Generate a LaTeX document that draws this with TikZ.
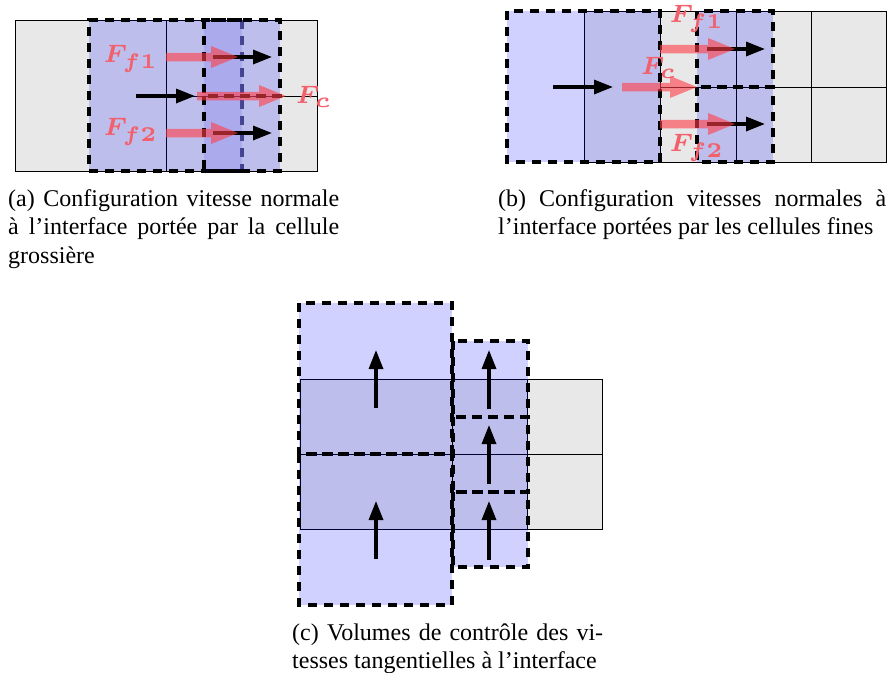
\RequirePackage{fix-cm}
\documentclass[tikz,border=0pt]{standalone}
\usepackage{fontspec}
\setmainfont{Liberation Serif}
\usetikzlibrary{arrows.meta}
\definecolor{cellgray}{RGB}{232,232,232}
\definecolor{arrred}{RGB}{255,60,70}
\definecolor{labred}{RGB}{242,96,108}
\definecolor{fadedge}{RGB}{80,80,130}
\tikzset{
 cell/.style={draw=black, line width=0.8pt, fill=cellgray},
 gridline/.style={draw=black, line width=0.8pt},
 cvfill/.style={fill=blue, fill opacity=0.18},
 cvline/.style={draw=black, line width=3.8pt, dash pattern=on 9pt off 7pt},
 cv/.style={cvfill, cvline},
 redarr/.style={fill=arrred, fill opacity=0.6},
 blackarr/.style={draw=black, line width=3.3pt, -{Triangle[length=19pt,width=14pt]}},
 flabel/.style={text=labred, inner sep=0pt, font=\fontsize{6}{7}\selectfont\boldmath},
 captxt/.style={inner sep=0pt, anchor=base west, font=\fontsize{24}{28.5}\selectfont},
}
\begin{document}
\begin{tikzpicture}[x=1pt,y=-1pt]
\useasboundingbox (0,0) rectangle (891,672);
% ---------------- (a)
\draw[cell] (15,20) rectangle (317,171);
\draw[gridline] (166,20) -- (166,171);
\draw[gridline] (166,96) -- (317,96);
\fill[cvfill] (89,20) rectangle (242,171);
\draw[cvline, draw=fadedge] (242,20) -- (242,171);
\draw[cvline] (242,20) -- (89,20) -- (89,171) -- (242,171);
\fill[fill=blue, fill opacity=0.1] (204,20) rectangle (242,171);
\fill[cvfill] (242,20) rectangle (280,171);
\draw[cvline] (204,20) rectangle (280,96);
\draw[cvline] (204,96) rectangle (280,171);
\draw[blackarr] (213,57) -- (272,57);
\draw[blackarr] (136,96) -- (195,96);
\draw[blackarr] (213,133) -- (272,133);
\fill[redarr] (166,52.75) -- (211,52.75) -- (211,46) -- (238,57) -- (211,68) -- (211,61.25) -- (166,61.25) -- cycle;
\fill[redarr] (197,91.75) -- (259,91.75) -- (259,85) -- (286,96) -- (259,107) -- (259,100.25) -- (197,100.25) -- cycle;
\fill[redarr] (166,128.75) -- (211,128.75) -- (211,122) -- (238,133) -- (211,144) -- (211,137.25) -- (166,137.25) -- cycle;
\node[flabel] (af1) at (131,59) {\scalebox{4.2}{$F_{f1}$}};
\node[flabel] (af2) at (131,132) {\scalebox{4.2}{$F_{f2}$}};
\node[flabel] (afc) at (314,97) {\scalebox{4.2}{$F_{c}$}};
\node[captxt] (capa) at (8,206) {\parbox[t]{331pt}{(a) Configuration vitesse normale\linebreak à l’interface portée par la cellule\linebreak grossière}};
% ---------------- (b)
\draw[cell] (584,11) rectangle (886,162);
\draw[gridline] (660,11) -- (660,162);
\draw[gridline] (736,11) -- (736,162);
\draw[gridline] (811,11) -- (811,162);
\draw[gridline] (660,87) -- (886,87);
\draw[cv] (507,11) rectangle (660,162);
\draw[cv] (697,11) rectangle (773,87);
\draw[cv] (697,87) rectangle (773,162);
\draw[blackarr] (553,87) -- (613,87);
\draw[blackarr] (707,49) -- (765,49);
\draw[blackarr] (707,124) -- (765,124);
\fill[redarr] (622,82.75) -- (670,82.75) -- (670,76) -- (697,87) -- (670,98) -- (670,91.25) -- (622,91.25) -- cycle;
\fill[redarr] (660,44.75) -- (708,44.75) -- (708,38) -- (735,49) -- (708,60) -- (708,53.25) -- (660,53.25) -- cycle;
\fill[redarr] (660,119.75) -- (708,119.75) -- (708,113) -- (735,124) -- (708,135) -- (708,128.25) -- (660,128.25) -- cycle;
\node[flabel] (bf1) at (697,19) {\scalebox{4.2}{$F_{f1}$}};
\node[flabel] (bfc) at (659,68) {\scalebox{4.2}{$F_{c}$}};
\node[flabel] (bf2) at (697,148) {\scalebox{4.2}{$F_{f2}$}};
\node[captxt] (capb) at (498,206) {\parbox[t]{388pt}{(b) Configuration vitesses normales à\linebreak l’interface portées par les cellules fines}};
% ---------------- (c)
\draw[cell] (300,379) rectangle (602,529);
\draw[gridline] (300,454) -- (602,454);
\draw[gridline] (452,379) -- (452,529);
\draw[gridline] (527,379) -- (527,529);
\draw[cv] (299,303) rectangle (452,454);
\draw[cv] (299,454) rectangle (452,605);
\draw[cv] (453,341) rectangle (528,417);
\draw[cv] (453,417) rectangle (528,492);
\draw[cv] (453,492) rectangle (528,567);
\draw[blackarr] (376,408) -- (376,350);
\draw[blackarr] (376,559) -- (376,501);
\draw[blackarr] (489,409) -- (489,350);
\draw[blackarr] (489,484) -- (489,425);
\draw[blackarr] (489,560) -- (489,501);
\node[captxt] (capc) at (292,640) {\parbox[t]{311pt}{(c) Volumes de contrôle des vi-\linebreak tesses tangentielles à l’interface}};
\end{tikzpicture}
\end{document}
